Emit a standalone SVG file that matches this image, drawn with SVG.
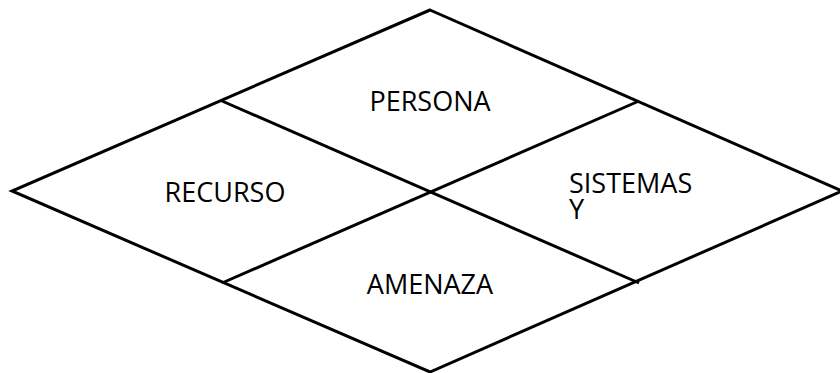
<svg xmlns="http://www.w3.org/2000/svg" width="840" height="373" viewBox="0 0 840 373">
<style>
.ln{fill:none;stroke:#000;stroke-width:3;stroke-linejoin:miter}
.t{font-family:"Open Sans","Liberation Sans",sans-serif;font-size:27px;fill:#000}
</style>
<rect width="840" height="373" fill="#fff"/>
<g id="connectors">
<polygon class="ln" points="430,10 842,191 430,372 12,191"/>
<line class="ln" x1="222" y1="101" x2="639" y2="283"/>
<line class="ln" x1="639" y1="101" x2="222" y2="283"/>
</g>
<g id="persona"><text class="t" x="430" y="111" text-anchor="middle">PERSONA</text></g>
<g id="recurso"><text class="t" x="225" y="202" text-anchor="middle">RECURSO</text></g>
<g id="amenaza"><text class="t" x="430" y="294" text-anchor="middle">AMENAZA</text></g>
<g id="sistemas"><text class="t" x="569" y="193">SISTEMAS</text><text class="t" x="569" y="219">Y</text></g>
</svg>
